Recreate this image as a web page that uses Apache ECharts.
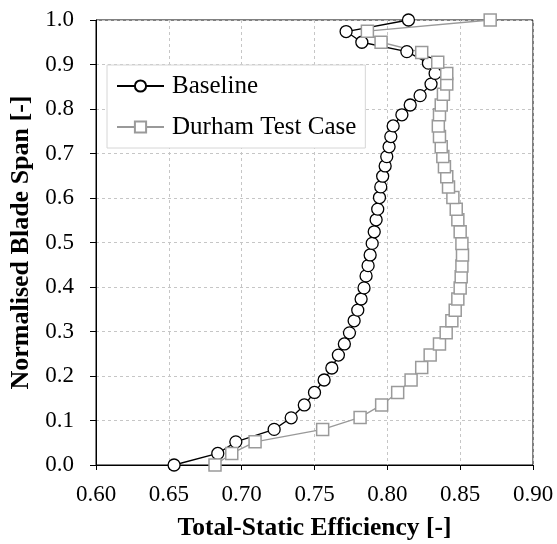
<!DOCTYPE html>
<html>
<head>
<meta charset="utf-8">
<script src="https://cdn.jsdelivr.net/npm/echarts@6/dist/echarts.min.js"></script>
<style>
html,body{margin:0;padding:0;background:#fff;}
#chart{width:557px;height:544px;}
</style>
</head>
<body>
<div id="chart"></div>
<script>
// Normalised blade span values for each point
var baselineSpan = [0.000, 0.026, 0.052, 0.080, 0.106, 0.135, 0.163, 0.191, 0.218, 0.247, 0.272, 0.297, 0.324, 0.348, 0.373, 0.398, 0.425, 0.448, 0.472, 0.498, 0.524, 0.551, 0.575, 0.601, 0.625, 0.649, 0.672, 0.693, 0.715, 0.738, 0.762, 0.787, 0.809, 0.830, 0.856, 0.880, 0.903, 0.929, 0.950, 0.974, 1.000];
var baselineEff = [0.6536, 0.6836, 0.6960, 0.7223, 0.7340, 0.7430, 0.7500, 0.7566, 0.7619, 0.7664, 0.7705, 0.7740, 0.7772, 0.7797, 0.7820, 0.7840, 0.7854, 0.7868, 0.7882, 0.7896, 0.7910, 0.7923, 0.7934, 0.7946, 0.7955, 0.7968, 0.7985, 0.7996, 0.8012, 0.8024, 0.8040, 0.8100, 0.8157, 0.8225, 0.8300, 0.8328, 0.8282, 0.8134, 0.7825, 0.7717, 0.8145];

var durhamSpan = [0.000, 0.026, 0.052, 0.080, 0.107, 0.135, 0.163, 0.191, 0.219, 0.247, 0.272, 0.297, 0.324, 0.348, 0.373, 0.398, 0.423, 0.447, 0.472, 0.498, 0.524, 0.551, 0.575, 0.601, 0.625, 0.648, 0.670, 0.693, 0.715, 0.738, 0.762, 0.787, 0.809, 0.833, 0.856, 0.880, 0.905, 0.927, 0.950, 0.975, 1.000];
var durhamEff = [0.6817, 0.6932, 0.7092, 0.7556, 0.7813, 0.7961, 0.8071, 0.8163, 0.8236, 0.8294, 0.8358, 0.8404, 0.8443, 0.8466, 0.8484, 0.8500, 0.8507, 0.8512, 0.8516, 0.8512, 0.8500, 0.8484, 0.8473, 0.8450, 0.8420, 0.8408, 0.8392, 0.8381, 0.8370, 0.8358, 0.8350, 0.8358, 0.8370, 0.8385, 0.8408, 0.8408, 0.8346, 0.8236, 0.7957, 0.7863, 0.8706];

var seriesNames = ['Baseline', 'Durham Test Case'];
var xTicks = {min: 0.60, max: 0.90, step: 0.05};
var yTicks = {min: 0.0, max: 1.0, step: 0.1};

function pairs(xs, ys) { return xs.map(function (x, i) { return [x, ys[i]]; }); }

var FONT = '"Liberation Serif", "Times New Roman", serif';
var chart = echarts.init(document.getElementById('chart'), null, {renderer: 'canvas'});
var gridLine = {show: true, lineStyle: {color: '#c6c6c6', type: [3, 3], width: 1}};

chart.setOption({
  backgroundColor: '#ffffff',
  animation: false,
  grid: {left: 96, right: 24, top: 20, bottom: 79, show: true, borderColor: '#000', borderWidth: 1, backgroundColor: 'transparent', outerBoundsMode: 'none', containLabel: false},
  legend: {
    orient: 'vertical',
    left: 107, top: 65,
    padding: [8, 9, 8, 9],
    itemGap: 15,
    itemWidth: 47, itemHeight: 14,
    backgroundColor: '#fff',
    borderColor: '#d6d6d6', borderWidth: 1,
    textStyle: {fontFamily: FONT, fontSize: 25, color: '#000', lineHeight: 26, padding: [0, 0, 0, 3]},
    data: seriesNames
  },
  xAxis: {
    type: 'value', min: xTicks.min, max: xTicks.max, interval: xTicks.step,
    name: 'Total-Static Efficiency [-]', nameLocation: 'middle', nameGap: 50,
    nameTextStyle: {fontFamily: FONT, fontSize: 25.5, fontWeight: 'bold', color: '#000'},
    axisLine: {show: true, onZero: false, lineStyle: {color: '#000', width: 1}},
    axisTick: {show: true, inside: false, length: 5, lineStyle: {color: '#000'}},
    axisLabel: {fontFamily: FONT, fontSize: 23, color: '#000', margin: 18, formatter: function (v) { return v.toFixed(2); }},
    splitLine: gridLine
  },
  yAxis: {
    type: 'value', min: yTicks.min, max: yTicks.max, interval: yTicks.step,
    name: 'Normalised Blade Span [-]', nameLocation: 'middle', nameGap: 60, nameRotate: 90,
    nameTextStyle: {fontFamily: FONT, fontSize: 26, fontWeight: 'bold', color: '#000'},
    axisLine: {show: true, onZero: false, lineStyle: {color: '#000', width: 1}},
    axisTick: {show: true, inside: false, length: 6, lineStyle: {color: '#000'}},
    axisLabel: {fontFamily: FONT, fontSize: 23, color: '#000', margin: 22, formatter: function (v) { return v.toFixed(1); }},
    splitLine: gridLine
  },
  series: [
    {
      name: seriesNames[0], type: 'line', data: pairs(baselineEff, baselineSpan),
      symbol: 'circle', symbolSize: 12, showAllSymbol: true,
      lineStyle: {color: '#000', width: 1.3},
      itemStyle: {color: '#fff', borderColor: '#000', borderWidth: 1.3},
      emphasis: {disabled: true}
    },
    {
      name: seriesNames[1], type: 'line', data: pairs(durhamEff, durhamSpan),
      symbol: 'rect', symbolSize: 12, showAllSymbol: true,
      lineStyle: {color: '#999', width: 1.3},
      itemStyle: {color: '#fff', borderColor: '#9a9a9a', borderWidth: 1.5},
      emphasis: {disabled: true}
    }
  ]
});
</script>
</body>
</html>
